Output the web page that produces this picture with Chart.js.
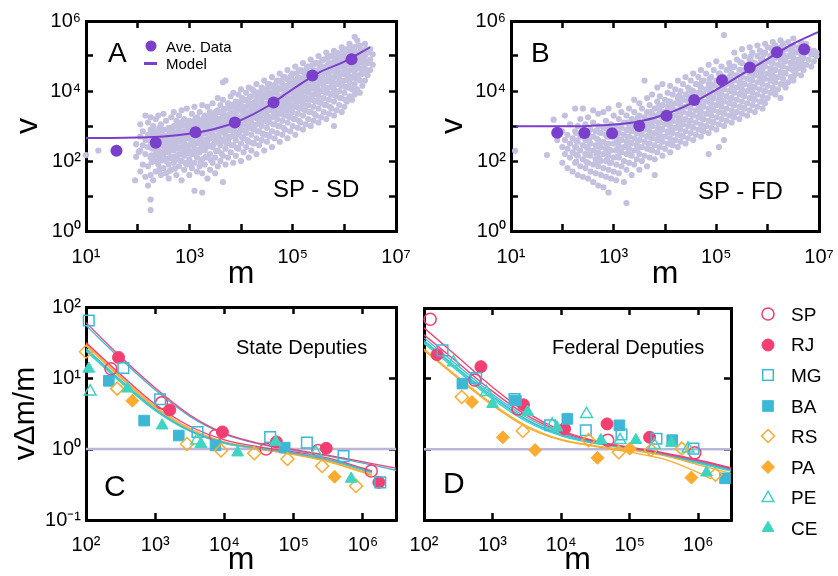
<!DOCTYPE html>
<html>
<head>
<meta charset="utf-8">
<script src="https://cdn.jsdelivr.net/npm/chart.js@4.4.1/dist/chart.umd.min.js"></script>
<style>
  body { margin: 0; background: #fff; width: 838px; height: 576px; overflow: hidden; position: relative;
         font-family: 'Liberation Sans', Arial, Helvetica, sans-serif; }
  .box { position: absolute; }
  .txt { position: absolute; white-space: nowrap; color: #000; line-height: 1; }
  .mk { position: absolute; width: 0; height: 0; }
</style>
</head>
<body>
<div class="box" style="left:0;top:0;width:420px;height:290px"><canvas id="chartA"></canvas></div>
<div class="box" style="left:420px;top:0;width:418px;height:290px"><canvas id="chartB"></canvas></div>
<div class="box" style="left:0;top:290px;width:420px;height:286px"><canvas id="chartC"></canvas></div>
<div class="box" style="left:400px;top:290px;width:340px;height:286px"><canvas id="chartD"></canvas></div>

<div class="txt" style="left:108px;top:39px;font-size:28px">A</div>
<div class="txt" style="left:531px;top:39px;font-size:28px">B</div>
<div class="txt" style="left:104px;top:471px;font-size:30px">C</div>
<div class="txt" style="left:443px;top:468px;font-size:30px">D</div>
<div class="txt" style="left:273px;top:177px;font-size:24px">SP - SD</div>
<div class="txt" style="left:698px;top:179px;font-size:24px">SP - FD</div>
<div class="txt" style="left:236px;top:337px;font-size:20px">State Deputies</div>
<div class="txt" style="left:552px;top:337px;font-size:20px">Federal Deputies</div>
<div id="legendA"></div>
<div id="legendD"></div>

<script>
// ---- panel A / B : exponents (log10) ----
const aveA_logm = [1.59, 2.35, 3.12, 3.88, 4.63, 5.38, 6.14];
const aveA_logv = [2.29, 2.52, 2.82, 3.10, 3.67, 4.44, 4.91];
const modelA_logm = [1.0, 1.5, 2.0, 2.5, 3.0, 3.5, 4.0, 4.5, 5.0, 5.5, 6.0, 6.5];
const modelA_logv = [2.66, 2.66, 2.67, 2.70, 2.78, 2.92, 3.17, 3.55, 4.05, 4.52, 4.84, 5.25];

const aveB_logm = [1.90, 2.43, 2.97, 3.50, 4.03, 4.57, 5.11, 5.65, 6.18, 6.71];
const aveB_logv = [2.81, 2.80, 2.79, 3.00, 3.29, 3.74, 4.31, 4.67, 5.11, 5.19];
const modelB_logm = [1.1, 1.5, 2.0, 2.5, 3.0, 3.5, 4.0, 4.5, 5.0, 5.5, 6.0, 6.5, 6.98];
const modelB_logv = [2.99, 2.99, 2.99, 3.00, 3.04, 3.13, 3.33, 3.64, 4.04, 4.48, 4.92, 5.35, 5.68];

// raw candidates, one row per m column: [log m, log v, log v, ...]
const cloudA = [
  [1.00, 2.17], [1.24, 2.30], [1.95, 1.45], [1.97, 2.12, 2.48], [2.02, 2.26],
  [2.05, 1.70, 2.30, 2.70, 3.05], [2.10, 1.90, 2.45, 2.85], [2.15, 1.55, 2.20, 2.60, 3.30],
  [2.20, 1.30, 1.85, 2.40, 2.75, 3.10], [2.25, 0.60, 0.90, 1.60, 2.10, 2.55, 2.90, 3.25],
  [2.30, 1.45, 2.00, 2.35, 2.70, 3.00], [2.35, 1.70, 2.20, 2.50, 2.85, 3.20], [2.40, 1.90, 2.30, 2.65, 3.30],
  [2.45, 1.60, 2.05, 2.45, 2.80, 3.05], [2.50, 1.80, 2.20, 2.55, 2.90, 3.35], [2.55, 1.65, 2.00, 2.35, 2.70, 3.15],
  [2.60, 1.50, 1.90, 2.25, 2.60, 2.95], [2.65, 1.75, 2.10, 2.45, 2.80, 3.25], [2.70, 1.95, 2.30, 2.65, 3.00, 3.40],
  [2.75, 1.60, 2.05, 2.40, 2.75, 3.15], [2.80, 1.85, 2.20, 2.55, 2.90, 3.30], [2.85, 1.45, 2.00, 2.35, 2.70, 3.05, 3.45],
  [2.90, 1.75, 2.15, 2.50, 2.85, 3.20], [2.95, 1.90, 2.30, 2.65, 3.00, 3.50], [3.00, 1.60, 2.05, 2.45, 2.80, 3.15],
  [3.05, 1.80, 2.20, 2.60, 2.95, 3.35], [3.10, 1.15, 1.95, 2.35, 2.70, 3.05, 3.55], [3.15, 1.70, 2.10, 2.50, 2.85, 3.25],
  [3.20, 1.85, 2.25, 2.65, 3.00, 3.40], [3.25, 1.10, 1.65, 2.05, 2.45, 2.80, 3.15, 3.60], [3.30, 1.90, 2.30, 2.60, 2.95, 3.30],
  [3.35, 1.50, 2.10, 2.50, 2.85, 3.20, 3.55], [3.40, 1.75, 2.20, 2.65, 3.00, 3.40], [3.45, 1.95, 2.40, 2.75, 3.10, 3.65],
  [3.50, 1.65, 2.10, 2.55, 2.90, 3.25], [3.55, 1.85, 2.30, 2.70, 3.05, 3.45, 3.80], [3.60, 2.00, 2.45, 2.85, 3.20, 3.60],
  [3.65, 1.40, 2.15, 2.60, 2.95, 3.35, 3.75, 4.25], [3.70, 1.90, 2.35, 2.75, 3.10, 3.50, 4.30], [3.75, 2.10, 2.55, 2.90, 3.25, 3.65],
  [3.80, 2.25, 2.70, 3.05, 3.40, 3.85], [3.85, 1.95, 2.45, 2.85, 3.20, 3.55, 3.95], [3.90, 2.15, 2.60, 3.00, 3.35, 3.70],
  [3.95, 2.35, 2.75, 3.10, 3.45, 3.90], [4.00, 2.00, 2.50, 2.90, 3.25, 3.60, 4.05], [4.05, 2.25, 2.65, 3.05, 3.40, 3.75],
  [4.10, 2.40, 2.80, 3.20, 3.55, 3.95], [4.15, 2.10, 2.55, 2.95, 3.30, 3.65, 4.10], [4.20, 2.30, 2.75, 3.10, 3.45, 3.85],
  [4.25, 2.50, 2.90, 3.25, 3.60, 4.00], [4.30, 2.20, 2.65, 3.05, 3.40, 3.75, 4.20], [4.35, 2.45, 2.85, 3.20, 3.55, 3.90],
  [4.40, 2.60, 3.00, 3.35, 3.70, 4.10], [4.45, 2.30, 2.75, 3.15, 3.50, 3.85, 4.30], [4.50, 2.55, 2.95, 3.30, 3.65, 4.00],
  [4.55, 2.70, 3.10, 3.45, 3.80, 4.20], [4.60, 2.40, 2.85, 3.25, 3.60, 3.95, 4.40], [4.65, 2.65, 3.05, 3.40, 3.75, 4.10],
  [4.70, 2.80, 3.20, 3.55, 3.90, 4.30], [4.75, 2.55, 3.00, 3.35, 3.70, 4.05, 4.50], [4.80, 2.75, 3.15, 3.50, 3.85, 4.20],
  [4.85, 2.90, 3.30, 3.65, 4.00, 4.40], [4.90, 2.65, 3.10, 3.45, 3.80, 4.15, 4.60], [4.95, 2.85, 3.25, 3.60, 3.95, 4.30],
  [5.00, 3.00, 3.40, 3.75, 4.10, 4.50], [5.05, 2.75, 3.20, 3.55, 3.90, 4.25, 4.70], [5.10, 2.95, 3.35, 3.70, 4.05, 4.40],
  [5.15, 3.10, 3.50, 3.85, 4.20, 4.60], [5.20, 2.90, 3.30, 3.65, 4.00, 4.35, 4.80], [5.25, 3.05, 3.45, 3.80, 4.15, 4.50],
  [5.30, 3.20, 3.60, 3.95, 4.30, 4.70], [5.35, 3.00, 3.40, 3.75, 4.10, 4.45, 4.90], [5.40, 3.15, 3.55, 3.90, 4.25, 4.60],
  [5.45, 3.30, 3.70, 4.05, 4.40, 4.80], [5.50, 3.10, 3.50, 3.85, 4.20, 4.55, 5.00], [5.55, 3.25, 3.65, 4.00, 4.35, 4.70],
  [5.60, 3.40, 3.80, 4.15, 4.50, 4.90], [5.65, 3.20, 3.60, 3.95, 4.30, 4.65, 5.10], [5.70, 3.35, 3.75, 4.10, 4.45, 4.80],
  [5.75, 3.50, 3.90, 4.25, 4.60, 5.00], [5.80, 3.00, 3.30, 3.70, 4.05, 4.40, 4.75, 5.15], [5.85, 3.45, 3.85, 4.20, 4.55, 4.90],
  [5.90, 3.60, 4.00, 4.35, 4.70, 5.05], [5.95, 3.40, 3.80, 4.15, 4.50, 4.85, 5.25], [6.00, 3.55, 3.95, 4.30, 4.65, 5.00],
  [6.05, 3.70, 4.10, 4.45, 4.80, 5.15], [6.10, 3.85, 4.25, 4.60, 4.95, 5.35], [6.15, 3.75, 4.05, 4.40, 4.75, 5.10],
  [6.20, 3.90, 4.20, 4.55, 4.90, 5.25, 5.55], [6.25, 4.05, 4.35, 4.70, 5.05, 5.45], [6.30, 3.95, 4.30, 4.65, 5.00, 5.30],
  [6.35, 4.15, 4.50, 4.85, 5.15], [6.40, 4.30, 4.65, 5.00, 5.35], [6.45, 4.45, 4.80, 5.10],
  [6.50, 4.60, 4.90, 5.20], [6.55, 4.75, 5.05],
  // second pass through the dense core
  [2.32, 2.15, 2.52, 2.85], [2.42, 1.75, 2.12, 2.48, 2.95], [2.52, 2.05, 2.38, 2.72], [2.62, 1.72, 2.08, 2.42, 2.78],
  [2.72, 1.78, 2.12, 2.48, 2.82], [2.82, 2.02, 2.38, 2.72, 3.10], [2.92, 1.95, 2.32, 2.68, 3.02],
  [3.02, 1.92, 2.28, 2.62, 2.98], [3.12, 2.20, 2.52, 2.88, 3.22], [3.22, 1.98, 2.35, 2.72, 3.08],
  [3.32, 2.12, 2.45, 2.78, 3.12], [3.42, 2.02, 2.42, 2.82, 3.18], [3.52, 2.28, 2.70, 3.08, 3.42],
  [3.62, 2.22, 2.62, 3.02, 3.38], [3.72, 2.50, 2.92, 3.30], [3.82, 2.45, 2.88, 3.22, 3.60],
  [3.92, 2.38, 2.80, 3.18, 3.52], [4.02, 2.68, 3.08, 3.42, 3.80], [4.12, 2.60, 3.00, 3.38, 3.72],
  [4.22, 2.52, 2.92, 3.28, 3.65, 4.05], [4.32, 2.85, 3.22, 3.58, 3.95], [4.42, 2.78, 3.18, 3.52, 3.88],
  [4.52, 2.75, 3.12, 3.48, 3.82, 4.20], [4.62, 3.05, 3.42, 3.78, 4.15], [4.72, 3.00, 3.38, 3.72, 4.08],
  [4.82, 2.95, 3.32, 3.68, 4.02, 4.40], [4.92, 3.28, 3.62, 3.98, 4.32], [5.02, 3.20, 3.58, 3.92, 4.28],
  [5.12, 3.15, 3.52, 3.88, 4.22, 4.58], [5.22, 3.48, 3.82, 4.18, 4.52], [5.32, 3.40, 3.78, 4.12, 4.48],
  [5.42, 3.35, 3.72, 4.08, 4.42, 4.78], [5.52, 3.68, 4.02, 4.38, 4.72], [5.62, 3.60, 3.98, 4.32, 4.68],
  [5.72, 3.55, 3.92, 4.28, 4.62, 4.98], [5.82, 3.88, 4.22, 4.58, 4.92], [5.92, 3.80, 4.18, 4.52, 4.88],
  [6.02, 3.75, 4.12, 4.48, 4.82, 5.18], [6.12, 4.08, 4.42, 4.78, 5.12], [6.22, 4.02, 4.38, 4.72, 5.08],
  [6.32, 4.48, 4.82, 5.18], [6.42, 4.50, 4.85, 5.20],
  // third pass, filling the solid middle of the band
  [2.27, 1.97, 2.16, 2.37, 2.58, 2.76], [2.37, 2.00, 2.22, 2.42, 2.60, 2.80], [2.47, 2.02, 2.25, 2.46, 2.66, 2.86],
  [2.57, 2.07, 2.28, 2.50, 2.70, 2.90], [2.67, 2.12, 2.33, 2.55, 2.74, 2.95], [2.77, 2.15, 2.37, 2.58, 2.78, 2.99],
  [2.87, 2.20, 2.40, 2.62, 2.82, 3.02], [2.97, 2.22, 2.44, 2.66, 2.86, 3.06], [3.07, 2.27, 2.48, 2.70, 2.90, 3.11],
  [3.17, 2.32, 2.53, 2.74, 2.95, 3.16], [3.27, 2.36, 2.58, 2.80, 3.00, 3.22], [3.37, 2.42, 2.63, 2.86, 3.06, 3.27],
  [3.47, 2.47, 2.68, 2.91, 3.12, 3.33], [3.57, 2.53, 2.75, 2.97, 3.18, 3.40], [3.67, 2.58, 2.82, 3.04, 3.25, 3.47],
  [3.77, 2.66, 2.88, 3.10, 3.32, 3.54], [3.87, 2.73, 2.95, 3.17, 3.38, 3.61], [3.97, 2.80, 3.02, 3.24, 3.46, 3.68],
  [4.07, 2.87, 3.10, 3.31, 3.53, 3.75], [4.17, 2.95, 3.17, 3.39, 3.60, 3.82], [4.27, 3.02, 3.24, 3.46, 3.68, 3.90],
  [4.37, 3.10, 3.32, 3.54, 3.75, 3.97], [4.47, 3.17, 3.39, 3.61, 3.83, 4.05], [4.57, 3.25, 3.47, 3.69, 3.90, 4.12],
  [4.67, 3.33, 3.55, 3.77, 3.98, 4.20], [4.77, 3.40, 3.62, 3.84, 4.06, 4.28], [4.87, 3.48, 3.70, 3.92, 4.13, 4.35],
  [4.97, 3.55, 3.77, 3.99, 4.21, 4.43], [5.07, 3.63, 3.85, 4.07, 4.28, 4.50], [5.17, 3.70, 3.92, 4.14, 4.36, 4.58],
  [5.27, 3.77, 3.99, 4.21, 4.43, 4.65], [5.37, 3.85, 4.07, 4.29, 4.50, 4.72], [5.47, 3.92, 4.14, 4.36, 4.58, 4.80],
  [5.57, 4.00, 4.22, 4.44, 4.65, 4.87], [5.67, 4.07, 4.29, 4.51, 4.73, 4.95], [5.77, 4.14, 4.36, 4.58, 4.80, 5.02],
  [5.87, 4.21, 4.43, 4.65, 4.86, 5.08], [5.97, 4.27, 4.49, 4.71, 4.92, 5.14], [6.07, 4.33, 4.55, 4.77, 4.98, 5.20],
  [6.17, 4.38, 4.60, 4.82, 5.03, 5.25], [6.27, 4.43, 4.65, 4.87, 5.08, 5.30], [6.37, 4.60, 4.80, 5.00]
];

const cloudB = [
  [1.08, 2.29], [1.70, 2.17], [1.83, 3.18], [1.90, 2.60], [1.96, 2.85],
  [2.00, 1.95, 2.40, 2.85], [2.05, 2.20, 2.60, 3.30], [2.10, 1.80, 2.35, 2.75], [2.15, 2.10, 2.50, 3.05],
  [2.20, 1.70, 2.25, 2.65], [2.25, 1.95, 2.40, 2.85, 3.50], [2.30, 1.60, 2.15, 2.55, 3.00], [2.35, 1.85, 2.30, 2.70, 3.20],
  [2.40, 1.55, 2.05, 2.45, 2.90, 3.50], [2.45, 1.80, 2.20, 2.60, 3.05], [2.50, 1.50, 1.95, 2.35, 2.75, 3.25],
  [2.55, 1.70, 2.15, 2.50, 2.90], [2.60, 1.40, 1.90, 2.30, 2.70, 3.10, 3.45], [2.65, 1.65, 2.05, 2.45, 2.85],
  [2.70, 1.30, 1.85, 2.25, 2.60, 3.00, 3.35], [2.75, 1.60, 2.00, 2.40, 2.80], [2.80, 1.25, 1.80, 2.20, 2.55, 2.95, 3.40],
  [2.85, 1.55, 2.00, 2.35, 2.75, 3.15], [2.90, 1.10, 1.75, 2.15, 2.50, 2.90, 3.50], [2.95, 1.50, 1.95, 2.30, 2.70, 3.05],
  [3.00, 1.70, 2.10, 2.50, 2.85, 3.30], [3.05, 1.45, 1.90, 2.30, 2.65, 3.00], [3.10, 1.65, 2.10, 2.45, 2.80, 3.20, 3.60],
  [3.15, 1.85, 2.25, 2.60, 2.95, 3.40], [3.20, 1.40, 2.00, 2.40, 2.75, 3.10], [3.25, 0.80, 1.75, 2.20, 2.55, 2.90, 3.30],
  [3.30, 1.95, 2.35, 2.70, 3.05, 3.50], [3.35, 1.60, 2.15, 2.50, 2.85, 3.20], [3.40, 1.90, 2.30, 2.65, 3.00, 3.40, 3.75],
  [3.45, 2.05, 2.45, 2.80, 3.15], [3.50, 1.75, 2.20, 2.60, 2.95, 3.30, 3.65], [3.55, 2.00, 2.40, 2.75, 3.10, 3.50],
  [3.60, 2.15, 2.55, 2.90, 3.25, 4.30], [3.65, 1.85, 2.35, 2.70, 3.05, 3.40, 3.80], [3.70, 2.10, 2.50, 2.85, 3.20, 3.60],
  [3.75, 2.30, 2.65, 3.00, 3.35, 3.90], [3.80, 1.60, 2.05, 2.45, 2.80, 3.15, 3.50], [3.85, 2.25, 2.60, 2.95, 3.30, 3.70, 4.10],
  [3.90, 2.40, 2.75, 3.10, 3.45, 3.85], [3.95, 2.15, 2.55, 2.90, 3.25, 3.60, 4.20], [4.00, 2.35, 2.70, 3.05, 3.40, 3.75],
  [4.05, 2.50, 2.85, 3.20, 3.55, 3.95], [4.10, 2.25, 2.65, 3.00, 3.35, 3.70, 4.15], [4.15, 2.45, 2.80, 3.15, 3.50, 3.90],
  [4.20, 2.60, 2.95, 3.30, 3.65, 4.05], [4.25, 2.40, 2.75, 3.10, 3.45, 3.80, 4.30], [4.30, 2.55, 2.90, 3.25, 3.60, 4.00],
  [4.35, 2.70, 3.05, 3.40, 3.75, 4.20], [4.40, 2.50, 2.85, 3.20, 3.55, 3.90, 4.40], [4.45, 2.65, 3.00, 3.35, 3.70, 4.10],
  [4.50, 2.80, 3.15, 3.50, 3.85, 4.30], [4.55, 2.60, 2.95, 3.30, 3.65, 4.00, 4.50], [4.60, 2.75, 3.10, 3.45, 3.80, 4.20],
  [4.65, 2.90, 3.25, 3.60, 3.95, 4.40], [4.70, 2.70, 3.05, 3.40, 3.75, 4.10, 4.60], [4.75, 2.85, 3.20, 3.55, 3.90, 4.30],
  [4.80, 3.00, 3.35, 3.70, 4.05, 4.50], [4.85, 2.20, 2.80, 3.15, 3.50, 3.85, 4.20, 4.75], [4.90, 2.95, 3.30, 3.65, 4.00, 4.40],
  [4.95, 3.10, 3.45, 3.80, 4.15, 4.60], [5.00, 2.90, 3.25, 3.60, 3.95, 4.30, 4.85], [5.05, 2.40, 3.05, 3.40, 3.75, 4.10, 4.50],
  [5.10, 3.20, 3.55, 3.90, 4.25, 4.70], [5.15, 2.60, 3.00, 3.35, 3.70, 4.05, 4.40, 5.60], [5.20, 3.15, 3.50, 3.85, 4.20, 4.60],
  [5.25, 3.30, 3.65, 4.00, 4.35, 4.80], [5.30, 3.10, 3.45, 3.80, 4.15, 4.50], [5.35, 3.25, 3.60, 3.95, 4.30, 4.70, 5.10],
  [5.40, 3.40, 3.75, 4.10, 4.45, 4.90], [5.45, 3.20, 3.55, 3.90, 4.25, 4.60], [5.50, 3.35, 3.70, 4.05, 4.40, 4.80, 5.20],
  [5.55, 3.50, 3.85, 4.20, 4.55, 5.00], [5.60, 3.30, 3.65, 4.00, 4.35, 4.70], [5.65, 3.45, 3.80, 4.15, 4.50, 4.90, 5.25],
  [5.70, 3.60, 3.95, 4.30, 4.65, 5.10], [5.75, 3.40, 3.75, 4.10, 4.45, 4.80], [5.80, 3.55, 3.90, 4.25, 4.60, 5.00, 5.30],
  [5.85, 3.70, 4.05, 4.40, 4.75, 5.15], [5.90, 3.50, 3.85, 4.20, 4.55, 4.90], [5.95, 3.65, 4.00, 4.35, 4.70, 5.10, 5.35],
  [6.00, 3.80, 4.15, 4.50, 4.85, 5.25], [6.05, 3.95, 4.30, 4.65, 5.00], [6.10, 4.10, 4.45, 4.80, 5.15, 5.40],
  [6.15, 3.90, 4.25, 4.60, 4.95, 5.30], [6.20, 4.05, 4.40, 4.75, 5.10], [6.25, 3.80, 4.20, 4.55, 4.90, 5.25, 5.45],
  [6.30, 4.35, 4.70, 5.05, 5.35], [6.35, 4.10, 4.50, 4.85, 5.20], [6.40, 4.25, 4.65, 5.00, 5.40],
  [6.45, 4.40, 4.80, 5.15], [6.50, 4.30, 4.60, 4.95, 5.30, 5.50], [6.55, 4.50, 4.75, 5.10],
  [6.60, 4.65, 4.90, 5.25], [6.65, 4.45, 4.80, 5.05, 5.40], [6.70, 4.60, 4.95, 5.20],
  [6.75, 4.75, 5.10, 5.35], [6.80, 4.90, 5.20], [6.85, 4.70, 5.05], [6.90, 4.85, 5.15], [6.95, 5.00, 5.10],
  // second pass through the dense core
  [2.52, 2.18, 2.58], [2.72, 2.08, 2.45, 2.82], [2.92, 1.95, 2.32, 2.70], [3.12, 2.28, 2.62, 2.98],
  [3.32, 2.18, 2.52, 2.88], [3.52, 2.40, 2.78, 3.12], [3.72, 2.32, 2.68, 3.05, 3.40],
  [3.92, 2.58, 2.92, 3.28], [4.12, 2.48, 2.85, 3.20, 3.55], [4.32, 2.72, 3.08, 3.42, 3.80],
  [4.52, 2.98, 3.32, 3.68, 4.02], [4.72, 2.88, 3.22, 3.58, 3.92, 4.28], [4.92, 3.12, 3.48, 3.82, 4.18],
  [5.12, 3.38, 3.72, 4.08, 4.42], [5.32, 3.28, 3.62, 3.98, 4.32, 4.68], [5.52, 3.52, 3.88, 4.22, 4.58],
  [5.72, 3.78, 4.12, 4.48, 4.82], [5.92, 3.68, 4.02, 4.38, 4.72, 5.05], [6.12, 3.95, 4.28, 4.62, 4.98],
  [6.32, 4.18, 4.52, 4.88, 5.22], [6.52, 4.45, 4.78, 5.12],
  // third pass
  [2.27, 1.98, 2.18, 2.38, 2.58, 2.80], [2.47, 1.97, 2.18, 2.40, 2.62, 2.84], [2.67, 2.00, 2.20, 2.42, 2.64, 2.86],
  [2.87, 2.05, 2.26, 2.48, 2.70, 2.92], [3.07, 2.12, 2.34, 2.56, 2.78, 3.00], [3.27, 2.22, 2.44, 2.66, 2.88, 3.10],
  [3.47, 2.35, 2.57, 2.79, 3.01, 3.23], [3.67, 2.50, 2.72, 2.94, 3.16, 3.38], [3.87, 2.66, 2.88, 3.10, 3.32, 3.54],
  [4.07, 2.82, 3.04, 3.26, 3.48, 3.70], [4.27, 2.98, 3.20, 3.42, 3.64, 3.86], [4.47, 3.14, 3.36, 3.58, 3.80, 4.02],
  [4.67, 3.30, 3.52, 3.74, 3.96, 4.18], [4.87, 3.46, 3.68, 3.90, 4.12, 4.34], [5.07, 3.62, 3.84, 4.06, 4.28, 4.50],
  [5.27, 3.78, 4.00, 4.22, 4.44, 4.66], [5.47, 3.94, 4.16, 4.38, 4.60, 4.82], [5.67, 4.10, 4.32, 4.54, 4.76, 4.98],
  [5.87, 4.25, 4.47, 4.69, 4.91, 5.12], [6.07, 4.40, 4.60, 4.82, 5.02, 5.22], [6.27, 4.52, 4.72, 4.92, 5.12],
  [6.47, 4.62, 4.82, 5.02, 5.20], [6.67, 4.72, 4.92, 5.10]
];

// ---- panel C / D : states, points [log m, log(v dm/m)] and fitted curves ----
const states = ['SP', 'RJ', 'MG', 'BA', 'RS', 'PA', 'PE', 'CE'];
const stateColors = ['#f23f72', '#f23f72', '#3cb8d6', '#3cb8d6', '#fbab2f', '#fbab2f', '#3fd4c2', '#3fd4c2'];
const stateShapes = ['circle', 'circle', 'rect', 'rect', 'rectRot', 'rectRot', 'triangle', 'triangle'];
const stateFilled = [false, true, false, true, false, true, false, true];

const sdPoints = [
  [[2.36, 1.13], [3.09, 0.65], [3.87, 0.19], [4.60, 0.00], [5.35, -0.02], [6.12, -0.31]],
  [[2.47, 1.29], [3.21, 0.55], [3.97, 0.24], [4.75, 0.10], [5.47, 0.01], [6.23, -0.47]],
  [[2.04, 1.81], [2.54, 1.14], [3.07, 0.70], [3.61, 0.24], [4.66, 0.17], [5.19, 0.09], [5.72, -0.10], [6.25, -0.47]],
  [[2.33, 0.96], [2.84, 0.40], [3.34, 0.19], [3.87, 0.05], [4.87, 0.02]],
  [[2.00, 1.37], [2.45, 0.85], [3.46, 0.07], [3.95, -0.02], [4.43, -0.06], [4.91, -0.14], [5.41, -0.24], [5.90, -0.52]],
  [[2.67, 0.68], [5.59, -0.39]],
  [[2.06, 0.81], [3.60, 0.12], [5.32, -0.05]],
  [[2.04, 1.13], [2.60, 0.85], [3.10, 0.33], [3.66, 0.07], [4.19, -0.05], [4.74, 0.10], [5.83, -0.42]]
];
const fdPoints = [
  [[2.09, 1.84], [2.74, 0.98], [3.37, 0.57], [4.68, 0.13], [5.95, -0.05]],
  [[2.19, 1.34], [2.83, 1.17], [3.45, 0.63], [4.05, 0.29], [4.67, 0.36], [5.29, 0.17]],
  [[2.27, 1.40], [2.76, 1.01], [3.32, 0.71], [3.84, 0.34], [4.36, 0.27], [4.88, 0.21], [5.39, 0.15], [5.93, 0.01]],
  [[2.56, 0.93], [3.34, 0.69], [4.09, 0.43], [4.85, 0.34], [5.62, 0.13], [6.39, -0.41]],
  [[2.55, 0.74], [3.44, 0.26], [4.40, 0.13], [4.84, -0.04], [5.31, -0.01], [5.76, 0.01], [6.25, -0.36]],
  [[2.70, 0.67], [3.15, 0.17], [3.62, -0.01], [4.53, -0.12], [5.00, 0.01], [5.90, -0.40]],
  [[2.43, 1.23], [2.91, 0.81], [3.87, 0.35], [4.37, 0.50], [4.86, 0.13], [5.36, 0.06], [5.85, 0.01]],
  [[3.00, 0.64], [3.51, 0.53], [3.94, 0.31], [4.58, 0.13], [5.09, 0.13], [5.61, 0.09], [6.12, -0.33]]
];

const fitLogM = [2.0, 2.5, 3.0, 3.5, 4.0, 4.5, 5.0, 5.5, 6.0];
const sdFit = [
  [1.50, 1.05, 0.63, 0.32, 0.13, 0.03, -0.04, -0.13, -0.27],
  [1.78, 1.30, 0.86, 0.48, 0.22, 0.08, -0.01, -0.09, -0.18],
  [1.74, 1.27, 0.83, 0.46, 0.21, 0.07, -0.02, -0.10, -0.20],
  [1.42, 0.97, 0.56, 0.26, 0.09, 0.01, -0.06, -0.15, -0.28],
  [1.46, 1.00, 0.58, 0.27, 0.09, 0.00, -0.08, -0.18, -0.33],
  [1.48, 1.02, 0.60, 0.29, 0.10, 0.01, -0.07, -0.17, -0.32],
  [1.38, 0.94, 0.54, 0.25, 0.08, 0.00, -0.07, -0.16, -0.30],
  [1.40, 0.95, 0.55, 0.26, 0.08, 0.01, -0.06, -0.15, -0.29]
];
const sdFitEnd = [[6.13, -0.31], [6.48, -0.27], [6.48, -0.30], [6.13, -0.32], [6.13, -0.37], [6.13, -0.36], [6.13, -0.34], [6.13, -0.33]];
const fdFit = [
  [1.72, 1.30, 0.88, 0.52, 0.27, 0.12, 0.03, -0.05, -0.15],
  [1.62, 1.22, 0.82, 0.48, 0.25, 0.11, 0.02, -0.06, -0.16],
  [1.58, 1.18, 0.78, 0.45, 0.23, 0.10, 0.02, -0.06, -0.17],
  [1.54, 1.14, 0.75, 0.42, 0.21, 0.09, 0.02, -0.07, -0.18],
  [1.42, 1.02, 0.64, 0.33, 0.14, 0.05, -0.01, -0.09, -0.22],
  [1.40, 1.00, 0.62, 0.31, 0.13, 0.04, -0.04, -0.14, -0.33],
  [1.52, 1.12, 0.73, 0.41, 0.20, 0.09, 0.01, -0.07, -0.19],
  [1.50, 1.10, 0.71, 0.39, 0.19, 0.08, 0.01, -0.08, -0.20]
];
const fdFitEnd = [[6.48, -0.26], [6.48, -0.27], [6.48, -0.28], [6.48, -0.29], [6.48, -0.34], [6.19, -0.42], [6.48, -0.30], [6.48, -0.31]];
const unityLevel = 1;

// ---- styling ----
const FONT = "'Liberation Sans', Arial, Helvetica, sans-serif";
const PURPLE = '#7a3fcb';
const LAVENDER = '#c4c0df';
const UNITY = '#bbb7d9';
const markerRadius = {circle: 6, rect: 7.5, rectRot: 6.5, triangle: 6.8};

const SUP = {'-': '\u207B', '0': '\u2070', '1': '\u00B9', '2': '\u00B2', '3': '\u00B3', '4': '\u2074',
             '5': '\u2075', '6': '\u2076', '7': '\u2077', '8': '\u2078', '9': '\u2079'};
const powLabel = e => '10' + String(e).split('').map(c => SUP[c]).join('');

const pts = (lm, lv) => lm.map((m, i) => ({x: 10 ** m, y: 10 ** lv[i]}));
const pairPts = arr => arr.map(p => ({x: 10 ** p[0], y: 10 ** p[1]}));
const cloudPts = rows => rows.flatMap(r => r.slice(1).map(v => ({x: 10 ** r[0], y: 10 ** v})));

function logScale(position, min, max, o = {}) {
  const decades = [];
  for (let e = Math.round(Math.log10(min)); e <= Math.floor(Math.log10(max) + 1e-9); e++) decades.push(10 ** e);
  const horiz = position === 'top' || position === 'bottom';
  return {
    type: 'logarithmic', position, min, max,
    afterBuildTicks: s => { s.ticks = decades.map(v => ({value: v})); },
    afterFit: s => {
      if (horiz) s.height = o.size || 0; else s.width = o.size || 0;
      s.paddingLeft = s.paddingRight = s.paddingTop = s.paddingBottom = 0;
    },
    border: {display: true, color: '#000', width: 3},
    grid: {drawOnChartArea: false, drawTicks: true, tickLength: -7, tickWidth: 2.5, tickColor: '#000'},
    ticks: {
      display: !!o.labels, autoSkip: false, maxRotation: 0, minRotation: 0, padding: o.pad || 0,
      color: '#000', font: {family: FONT, size: 20},
      callback: v => {
        const e = Math.round(Math.log10(v));
        return (o.parity == null || ((e % 2) + 2) % 2 === o.parity) ? powLabel(e) : '';
      }
    },
    title: o.title ? {
      display: true, text: o.title, color: '#000',
      font: {family: FONT, size: o.titleSize || 32, lineHeight: 1},
      padding: {top: o.titlePad || 0, bottom: 0}
    } : {display: false}
  };
}

function makeChart(id, datasets, scales, padding) {
  return new Chart(document.getElementById(id), {
    type: 'scatter',
    data: {datasets},
    options: {
      responsive: true, maintainAspectRatio: false, animation: false, events: [],
      layout: {padding},
      plugins: {legend: {display: false}, tooltip: {enabled: false}},
      scales
    }
  });
}

function topPanel(ave, model, cloud) {
  return [
    {label: 'Ave. Data', data: ave, pointRadius: 6, pointBackgroundColor: PURPLE, pointBorderWidth: 0, clip: false, order: 0},
    {type: 'line', label: 'Model', data: model, borderColor: PURPLE, borderWidth: 2, pointRadius: 0,
     cubicInterpolationMode: 'monotone', fill: false, order: 1},
    {label: 'data', data: cloud, pointRadius: 3.1, pointBackgroundColor: LAVENDER, pointBorderWidth: 0, clip: false, order: 2}
  ];
}

function statePanel(points, fit, fitEnd, mMin, mMax) {
  const sets = [{type: 'line', label: 'unity', data: [{x: mMin, y: unityLevel}, {x: mMax, y: unityLevel}],
                 borderColor: UNITY, borderWidth: 2.5, pointRadius: 0, order: 30}];
  states.forEach((s, i) => {
    sets.push({type: 'line', label: s + ' fit',
      data: pts(fitLogM, fit[i]).concat(pairPts([fitEnd[i]])),
      borderColor: stateColors[i], borderWidth: 1.3, pointRadius: 0, cubicInterpolationMode: 'monotone', order: 20});
    sets.push({label: s, data: pairPts(points[i]), pointStyle: stateShapes[i],
      pointRadius: markerRadius[stateShapes[i]], pointBorderColor: stateColors[i],
      pointBackgroundColor: stateFilled[i] ? stateColors[i] : 'rgba(255,255,255,0)',
      pointBorderWidth: stateFilled[i] ? 1 : 1.5, clip: false, order: 10 - i});
  });
  return sets;
}

makeChart('chartA', topPanel(pts(aveA_logm, aveA_logv), pts(modelA_logm, modelA_logv), cloudPts(cloudA)), {
  x: logScale('bottom', 10, 1e7, {size: 59, labels: true, parity: 1, pad: 21, title: 'm'}),
  y: logScale('left', 1, 1e6, {size: 86, labels: true, parity: 0, pad: 12, title: 'v', titlePad: 12}),
  x2: logScale('top', 10, 1e7), y2: logScale('right', 1, 1e6)
}, {left: 0, top: 21, right: 24, bottom: 0});

makeChart('chartB', topPanel(pts(aveB_logm, aveB_logv), pts(modelB_logm, modelB_logv), cloudPts(cloudB)), {
  x: logScale('bottom', 10, 1e7, {size: 59, labels: true, parity: 1, pad: 21, title: 'm'}),
  y: logScale('left', 1, 1e6, {size: 91, labels: true, parity: 0, pad: 12, title: 'v', titlePad: 17}),
  x2: logScale('top', 10, 1e7), y2: logScale('right', 1, 1e6)
}, {left: 0, top: 21, right: 19, bottom: 0});

makeChart('chartC', statePanel(sdPoints, sdFit, sdFitEnd, 1e2, 3e6), {
  x: logScale('bottom', 1e2, 3e6, {size: 56, labels: true, pad: 20, title: 'm'}),
  y: logScale('left', 0.1, 100, {size: 86, labels: true, pad: 12, title: 'v\u0394m/m', titleSize: 30, titlePad: 11}),
  x2: logScale('top', 1e2, 3e6), y2: logScale('right', 0.1, 100)
}, {left: 0, top: 17, right: 24, bottom: 0});

makeChart('chartD', statePanel(fdPoints, fdFit, fdFitEnd, 1e2, 3e6), {
  x: logScale('bottom', 1e2, 3e6, {size: 56, labels: true, pad: 20, title: 'm'}),
  y: logScale('left', 0.1, 100, {size: 24, labels: false}),
  x2: logScale('top', 1e2, 3e6), y2: logScale('right', 0.1, 100)
}, {left: 0, top: 18, right: 6, bottom: 0});

// ---- legends (HTML) ----
function markerSVG(shape, color, filled) {
  const r = markerRadius[shape], c = 10;
  let el;
  if (shape === 'circle') el = `<circle cx="${c}" cy="${c}" r="${r}"/>`;
  else if (shape === 'rect') { const h = r * Math.SQRT1_2; el = `<rect x="${c - h}" y="${c - h}" width="${2 * h}" height="${2 * h}"/>`; }
  else if (shape === 'rectRot') el = `<polygon points="${c},${c - r} ${c + r},${c} ${c},${c + r} ${c - r},${c}"/>`;
  else { const dx = r * Math.sin(2 * Math.PI / 3); el = `<polygon points="${c},${c - r} ${c + dx},${c + r / 2} ${c - dx},${c + r / 2}"/>`; }
  return `<svg width="20" height="20" style="position:absolute;left:-10px;top:-10px;overflow:visible" ` +
         `fill="${filled ? color : 'none'}" stroke="${color}" stroke-width="${filled ? 1 : 1.5}">${el}</svg>`;
}

const legD = document.getElementById('legendD');
states.forEach((s, i) => {
  const y = 314 + i * 30.6;
  legD.insertAdjacentHTML('beforeend',
    `<div class="mk" style="left:768px;top:${y}px">${markerSVG(stateShapes[i], stateColors[i], stateFilled[i])}</div>` +
    `<div class="txt" style="left:791px;top:${y - 9.3}px;font-size:19px">${s}</div>`);
});

document.getElementById('legendA').innerHTML =
  `<div class="mk" style="left:150.7px;top:46px"><svg width="20" height="20" style="position:absolute;left:-10px;top:-10px">` +
  `<circle cx="10" cy="10" r="5.5" fill="${PURPLE}"/></svg></div>` +
  `<div class="txt" style="left:166px;top:38.7px;font-size:15px">Ave. Data</div>` +
  `<div style="position:absolute;left:144px;top:62px;width:13px;height:2.5px;background:${PURPLE}"></div>` +
  `<div class="txt" style="left:166px;top:56px;font-size:15px">Model</div>`;
</script>
</body>
</html>
